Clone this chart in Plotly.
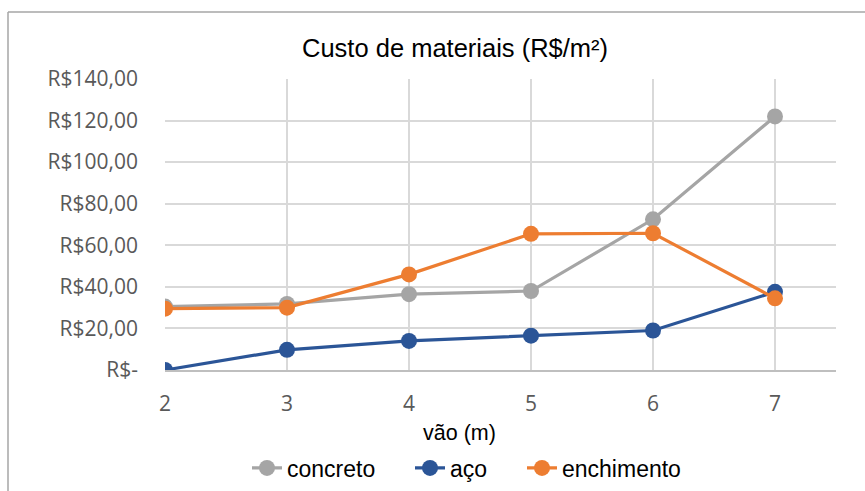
import plotly.graph_objects as go

# span of the slab (m)
vao = [2, 3, 4, 5, 6, 7]

# material cost per square metre (R$/m²)
concreto = [30.5, 31.8, 36.5, 38.0, 72.5, 122.0]
aco = [0.0, 9.7, 14.0, 16.5, 19.0, 37.6]
enchimento = [29.5, 30.0, 46.0, 65.5, 65.8, 34.5]

y_ticks = [0, 20, 40, 60, 80, 100, 120, 140]
y_tick_labels = ["R$-", "R$20,00", "R$40,00", "R$60,00", "R$80,00",
                 "R$100,00", "R$120,00", "R$140,00"]

series = [
    ("concreto", concreto, "#A5A5A5", "legend", 247),
    ("aço", aco, "#2B5597", "legend2", 410),
    ("enchimento", enchimento, "#ED7D31", "legend3", 522),
]

W, H = 865, 491
L, R, T, B = 165, 29, 79, 121
pw, ph = W - L - R, H - T - B


def px_x(x):
    return (x - L) / pw


def px_y(y):
    return (H - B - y) / ph


fig = go.Figure()
for name, vals, color, leg, _ in series:
    fig.add_trace(go.Scatter(
        x=vao, y=vals, name=name, mode="lines+markers",
        line=dict(color=color, width=3.2),
        marker=dict(color=color, size=16),
        legend=leg,
    ))

# outer chart frame (left and top edges)
frame = "#A6A6A6"
fig.add_shape(type="line", xref="paper", yref="paper",
              x0=px_x(8), x1=px_x(8), y0=px_y(12), y1=px_y(H),
              line=dict(color=frame, width=1.5))
fig.add_shape(type="line", xref="paper", yref="paper",
              x0=px_x(8), x1=px_x(W), y0=px_y(12), y1=px_y(12),
              line=dict(color=frame, width=1.5))

fig.add_annotation(text="Custo de materiais (R$/m²)", xref="paper", yref="paper",
                   x=px_x(455), y=px_y(48), showarrow=False,
                   xanchor="center", yanchor="middle",
                   font=dict(family="Liberation Sans, Arial", size=25.5, color="#000000"))
fig.add_annotation(text="vão (m)", xref="paper", yref="paper",
                   x=px_x(459), y=px_y(433), showarrow=False,
                   xanchor="center", yanchor="middle",
                   font=dict(family="Liberation Sans, Arial", size=21.5, color="#000000"))

tick_font = dict(family="Open Sans", size=21, color="#595959")
legend_font = dict(family="Liberation Sans, Arial", size=23, color="#000000")

legends = {}
for _, _, _, leg, x0 in series:
    legends[leg] = dict(orientation="h", xref="container", yref="container",
                        xanchor="left", yanchor="middle",
                        x=x0 / W, y=1 - 468 / H,
                        font=legend_font, itemwidth=30, tracegroupgap=0)

fig.update_layout(
    width=W, height=H,
    margin=dict(l=L, r=R, t=T, b=B),
    paper_bgcolor="white", plot_bgcolor="white",
    showlegend=True,
    xaxis=dict(range=[2, 7.5], tickvals=vao, ticktext=[str(v) for v in vao],
               showgrid=True, gridcolor="#D9D9D9", gridwidth=1.5,
               zeroline=False, showline=True, linecolor="#BFBFBF", linewidth=1.5,
               ticks="", ticklabelstandoff=14, tickfont=tick_font),
    yaxis=dict(range=[0, 140], tickvals=y_ticks, ticktext=y_tick_labels,
               showgrid=True, gridcolor="#D9D9D9", gridwidth=1.5,
               zeroline=False, showline=False,
               ticks="", ticklabelstandoff=26, tickfont=tick_font),
    **legends,
)

fig.write_html("out.html")
